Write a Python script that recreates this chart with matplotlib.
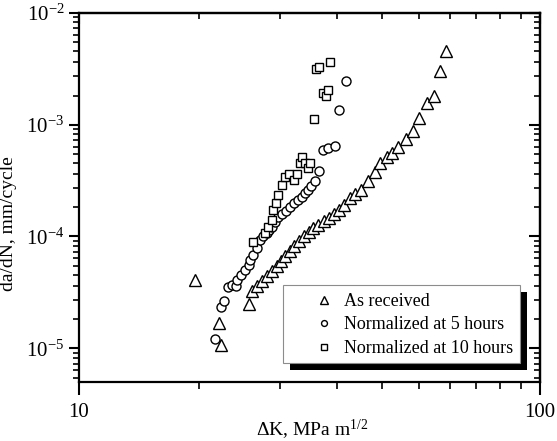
import matplotlib
matplotlib.use("Agg")
import matplotlib.pyplot as plt
from matplotlib.ticker import FixedLocator, NullFormatter, FixedFormatter
from matplotlib.patches import Rectangle
import matplotlib.patheffects as pe

plt.rcParams['font.family'] = ['Liberation Serif', 'DejaVu Serif']
plt.rcParams['mathtext.fontset'] = 'custom'
plt.rcParams['mathtext.rm'] = 'Liberation Serif'
plt.rcParams['mathtext.it'] = 'Liberation Serif:italic'

# ---- data (ΔK in MPa m^1/2, da/dN in mm/cycle) ----
as_received_dk = [17.85, 20.1, 20.3, 23.4, 23.7, 24.3, 24.9, 25.6, 26.2, 26.9,
                  27.4, 28.0, 28.7, 29.3, 30.0, 30.8, 31.5, 32.2, 33.0, 34.0,
                  34.9, 35.7, 36.6, 37.6, 38.7, 39.7, 40.9, 42.4, 43.9, 45.0,
                  46.6, 47.8, 49.2, 51.2, 53.0, 54.7, 56.9, 58.9, 60.7, 62.5]
as_received_dadn = [4.06e-5, 1.68e-5, 1.07e-5, 2.48e-5, 3.24e-5, 3.59e-5, 3.98e-5, 4.41e-5, 4.89e-5, 5.42e-5,
                    6.01e-5, 6.66e-5, 7.39e-5, 8.19e-5, 9.08e-5, 1.01e-4, 1.09e-4, 1.19e-4, 1.26e-4, 1.37e-4,
                    1.46e-4, 1.58e-4, 1.72e-4, 1.91e-4, 2.20e-4, 2.39e-4, 2.60e-4, 3.12e-4, 3.76e-4, 4.52e-4,
                    5.12e-4, 5.56e-4, 6.29e-4, 7.42e-4, 8.75e-4, 1.14e-3, 1.56e-3, 1.80e-3, 3.01e-3, 4.54e-3]

norm5_dk = [19.72, 20.32, 20.63, 21.05, 21.47, 21.90, 22.01, 22.46, 22.91, 23.38,
            23.49, 23.85, 24.33, 24.70, 25.07, 25.57, 25.83, 26.22, 26.61, 27.01,
            27.56, 28.12, 28.69, 29.27, 29.86, 30.46, 30.92, 31.39, 31.86, 32.51,
            33.16, 33.83, 34.68, 35.91, 36.64, 37.94]
norm5_dadn = [1.21e-5, 2.33e-5, 2.64e-5, 3.52e-5, 3.67e-5, 3.59e-5, 4.06e-5, 4.51e-5, 4.99e-5, 5.54e-5,
              6.14e-5, 6.80e-5, 7.86e-5, 9.27e-5, 1.006e-4, 1.07e-4, 1.138e-4, 1.211e-4, 1.342e-4, 1.488e-4,
              1.583e-4, 1.684e-4, 1.829e-4, 1.985e-4, 2.112e-4, 2.246e-4, 2.44e-4, 2.595e-4, 2.818e-4, 3.124e-4,
              3.84e-4, 5.91e-4, 6.16e-4, 6.42e-4, 1.348e-3, 2.449e-3]

norm10_dk = [23.85, 25.32, 25.70, 26.22, 26.35, 26.75, 27.01, 27.56, 27.98, 28.54,
             29.27, 29.71, 30.16, 30.46, 30.92, 31.39, 31.70, 32.34, 32.67, 33.16,
             33.83, 34.34, 34.68, 35.03]
norm10_dadn = [8.89e-5, 1.07e-4, 1.211e-4, 1.399e-4, 1.718e-4, 1.985e-4, 2.34e-4, 2.877e-4, 3.39e-4, 3.61e-4,
               3.19e-4, 3.61e-4, 4.52e-4, 5.12e-4, 4.52e-4, 4.08e-4, 4.52e-4, 1.12e-3, 3.14e-3, 3.27e-3,
               1.91e-3, 1.80e-3, 2.035e-3, 3.62e-3]

labels = ["As received", "Normalized at 5 hours", "Normalized at 10 hours"]
x_major = [10, 100]
x_major_labels = ["10", "100"]
y_major = [1e-5, 1e-4, 1e-3, 1e-2]
y_major_labels = [r"$10^{-5}$", r"$10^{-4}$", r"$10^{-3}$", r"$10^{-2}$"]

# ---- figure ----
fig = plt.figure(figsize=(5.57, 4.41), dpi=100)
ax = fig.add_axes([79 / 557, 1 - 382 / 441, 461 / 557, (382 - 12.7) / 441])
ax.set_xscale('log')
ax.set_yscale('log')
ax.set_xlim(10, 100)
ax.set_ylim(5e-6, 1e-2)

mk = dict(linestyle='none', markerfacecolor='white', markeredgecolor='black', markeredgewidth=1.0)
h1, = ax.plot(as_received_dk, as_received_dadn, marker='^', markersize=8, label=labels[0], **mk)
h2, = ax.plot(norm5_dk, norm5_dadn, marker='o', markersize=6.5, label=labels[1], **mk)
h3, = ax.plot(norm10_dk, norm10_dadn, marker='s', markersize=6, label=labels[2], **mk)

# minor tick positions (offset as in the original drawing)
x_minor = [n * 10 / 1.1 for n in range(2, 11)]
y_minor = [n * 10.0 ** k / 1.1 for k in range(-6, -2) for n in range(2, 11)]
y_minor = [v for v in y_minor if 5e-6 < v < 1e-2]

ax.xaxis.set_major_locator(FixedLocator(x_major))
ax.xaxis.set_major_formatter(FixedFormatter(x_major_labels))
ax.xaxis.set_minor_locator(FixedLocator(x_minor))
ax.xaxis.set_minor_formatter(NullFormatter())
ax.yaxis.set_major_locator(FixedLocator(y_major))
ax.yaxis.set_major_formatter(FixedFormatter(y_major_labels))
ax.yaxis.set_minor_locator(FixedLocator(y_minor))
ax.yaxis.set_minor_formatter(NullFormatter())

ax.tick_params(axis='x', which='major', direction='out', length=9, width=1.5, labelsize=15, pad=6)
ax.tick_params(axis='y', which='major', direction='out', length=7.5, width=1.5, labelsize=15, pad=3)
ax.tick_params(axis='x', which='minor', direction='out', length=5, width=1.2)
ax.tick_params(axis='y', which='minor', direction='out', length=4, width=1.2)
for s in ax.spines.values():
    s.set_linewidth(1.6)

# top / right ticks pointing inward
secx = ax.secondary_xaxis('top')
secx.xaxis.set_major_locator(FixedLocator(x_major))
secx.xaxis.set_minor_locator(FixedLocator(x_minor))
secx.xaxis.set_major_formatter(NullFormatter())
secx.xaxis.set_minor_formatter(NullFormatter())
secx.tick_params(which='major', direction='in', length=8, width=1.5)
secx.tick_params(which='minor', direction='in', length=4, width=1.2)
secx.spines['top'].set_linewidth(1.6)

secy = ax.secondary_yaxis('right')
secy.yaxis.set_major_locator(FixedLocator(y_major))
secy.yaxis.set_minor_locator(FixedLocator(y_minor))
secy.yaxis.set_major_formatter(NullFormatter())
secy.yaxis.set_minor_formatter(NullFormatter())
secy.tick_params(which='major', direction='in', length=8, width=1.5)
secy.tick_params(which='minor', direction='in', length=4, width=1.2)
secy.spines['right'].set_linewidth(1.6)

ax.set_xlabel("ΔK, MPa m$^{1/2}$", fontsize=14)
ax.xaxis.set_label_coords(0.505, -0.097)
ax.set_ylabel("da/dN, mm/cycle", fontsize=14)
ax.yaxis.set_label_coords(-0.135, 0.43)

# legend box with black drop shadow
box = Rectangle((0.4425, 0.0514), 0.514, 0.211, transform=ax.transAxes,
                facecolor='white', edgecolor='0.55', linewidth=0.8, zorder=5)
box.set_path_effects([pe.SimplePatchShadow(offset=(5, -5), shadow_rgbFace='black', alpha=1.0),
                      pe.Normal()])
ax.add_patch(box)

leg = ax.legend(handles=[h1, h2, h3], loc='upper left', bbox_to_anchor=(0.5126, 0.241),
                frameon=False, fontsize=13, handlelength=1.0, handletextpad=0.6,
                borderpad=0, borderaxespad=0, labelspacing=0.36, markerscale=0.65)
leg.set_zorder(6)

fig.savefig("out.png", dpi=100)
